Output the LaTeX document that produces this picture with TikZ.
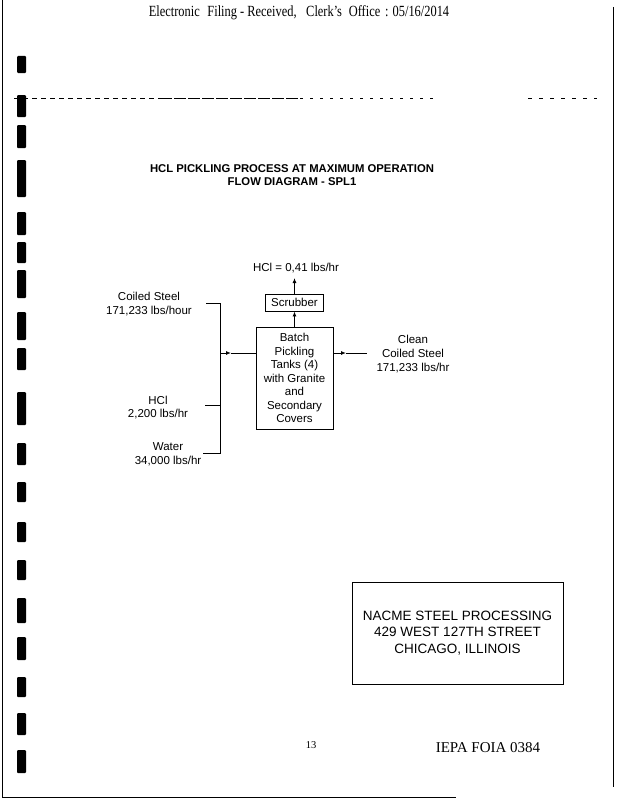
\documentclass[tikz,border=0pt]{standalone}
\usepackage{graphicx}
\usepackage{fontspec}
\setmainfont{Liberation Serif}
\setsansfont{Liberation Sans}
\usepackage{tikz}
\usetikzlibrary{arrows.meta,positioning,calc}

\begin{document}
\begin{tikzpicture}[x=1pt,y=-1pt,
lbl/.style={font=\sffamily\fontsize{11.5}{13.8}\selectfont,align=center,inner sep=0pt},
ttl/.style={font=\sffamily\bfseries\fontsize{11.3}{13}\selectfont,align=center,inner sep=0pt},
unitbox/.style={draw,line width=0.9pt,inner sep=0pt,font=\sffamily\fontsize{11.5}{13.5}\selectfont,align=center},
addr/.style={draw,line width=0.8pt,inner sep=0pt,font=\sffamily\fontsize{13.5}{16.5}\selectfont,align=center,minimum width=211pt,minimum height=102pt},
feed/.style={line width=0.9pt},
arr/.style={-{Latex[length=5pt,width=4pt]},line width=0.9pt},
page/.style={line width=1pt},
punch/.style={fill=black,rounded corners=1pt}
]
\useasboundingbox (0,0) rectangle (616,800);

% scan frame
\draw[page] (2,0) -- (2,797) -- (456,797);
\draw[page] (613,7) -- (613,787);
\foreach \ya/\yb in {56/73,95/117,125/148,160/197,212/235,242/263,270/298,312/340,348/370,392/425,
  443/465,482/502,522/542,560/580,598/623,637/660,677/697,713/735,750/773}
  \fill[punch] (17,\ya) rectangle (26,\yb);
\draw[line width=0.6pt,dash pattern=on 5pt off 4pt] (14,98) -- (160,98);
\draw[line width=0.6pt,dash pattern=on 12pt off 2pt] (160,98) -- (300,98);
\draw[line width=0.6pt,dash pattern=on 3pt off 7pt] (300,98) -- (437,98);
\draw[line width=0.6pt,dash pattern=on 4pt off 7pt] (528,98) -- (597,98);

\node[inner sep=0pt,font=\fontsize{15.5}{16}\selectfont] (head) at (299,13)
  {\scalebox{0.8}[1]{Electronic\hspace{9.5pt}Filing - Received,\hspace{12pt}Clerk's\hspace{8.5pt}Office\hspace{6pt}: 05/16/2014}};

% title
\node[ttl] (title) at (292,175) {HCL PICKLING PROCESS AT MAXIMUM OPERATION\\FLOW DIAGRAM - SPL1};

% process units
\node[unitbox,minimum width=77pt,minimum height=102pt] (tank) at (294.5,378)
  {Batch\\Pickling\\Tanks (4)\\with Granite\\and\\Secondary\\Covers};
\node[unitbox,minimum width=58pt,minimum height=17pt] (scrub) at (294.5,302.5) {Scrubber};
\node[lbl] (hclOut) at (296,268) {HCl = 0,41 lbs/hr};
\coordinate (stack) at (294.5,278);

% streams in
\node[lbl] (cs) at (149,304) {Coiled Steel\\171,233 lbs/hour};
\node[lbl] (hc) at (158,407.5) {HCl\\2,200 lbs/hr};
\node[lbl] (wt) at (168,454) {Water\\34,000 lbs/hr};
\coordinate (csIn) at (206,303);
\coordinate (csBus) at (220,303);
\coordinate (hcIn) at (205,405);
\coordinate (hcBus) at (220,405);
\coordinate (wtIn) at (203,453);
\coordinate (wtBus) at (220,453);
\coordinate (jn) at (220,353);
\coordinate (jnA) at (231,353);

% stream out
\node[lbl] (clean) at (413,354) {Clean\\Coiled Steel\\171,233 lbs/hr};
\coordinate (outA) at (346,353);
\coordinate (outEnd) at (367,353);

\draw[feed] (csIn) -- (csBus) -- (wtBus) -- (wtIn);
\draw[feed] (hcIn) -- (hcBus);
\draw[arr] (jn) -- (jnA);
\draw[feed] (jnA) -- (jnA -| tank.west);
\draw[arr] (jn -| tank.east) -- (outA);
\draw[feed] (outA) -- (outEnd);
\draw[arr] (tank.north) -- (scrub.south);
\draw[arr] (scrub.north) -- (stack);

% address block
\node[addr] (firm) at (457.5,633) {NACME STEEL PROCESSING\\429 WEST 127TH STREET\\CHICAGO, ILLINOIS};

% footer
\node[inner sep=0pt,font=\fontsize{10.5}{11}\selectfont] (pgno) at (311,745) {13};
\node[inner sep=0pt,font=\fontsize{15}{16}\selectfont] (foia) at (488,748) {IEPA FOIA 0384};
\end{tikzpicture}
\end{document}
